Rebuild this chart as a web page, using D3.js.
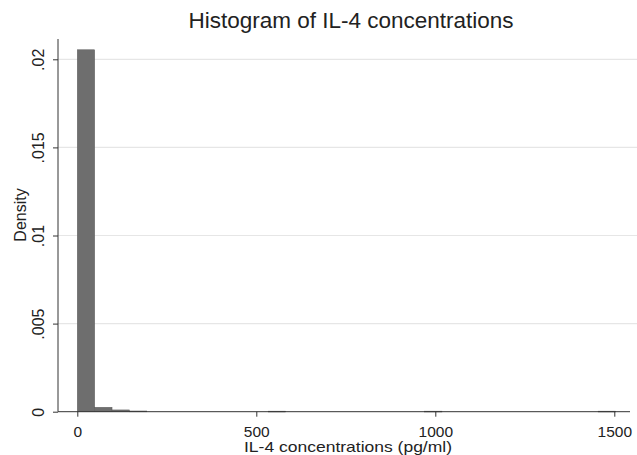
<!DOCTYPE html>
<html>
<head>
<meta charset="utf-8">
<script src="https://cdn.jsdelivr.net/npm/d3@7"></script>
<style>
  body { margin: 0; background: #fff; }
  text { font-family: "Liberation Sans", Arial, sans-serif; fill: #222; }
</style>
</head>
<body>
<svg id="chart" width="637" height="455"></svg>
<script>
// histogram bins (start of bin, density)
var binWidth = 48.5;
var binStarts = [0, 48.5, 97, 145.5, 533.5, 970, 1455];
var densities = [0.02054, 0.00025, 0.0001, 0.00004, 0.00003, 0.00003, 0.00003];
var xTicks = [0, 500, 1000, 1500];
var yTicks = [0, 0.005, 0.01, 0.015, 0.02];
var yTickLabels = ["0", ".005", ".01", ".015", ".02"];

var svg = d3.select("#chart");

var x = d3.scaleLinear().domain([0, 1500]).range([77.3, 614.3]);
var y = d3.scaleLinear().domain([0, 0.02]).range([411.7, 59.3]);

// plot edges ("top" is taken by window.top, so plotTop)
var plotLeft = 58, plotRight = 637, plotBottom = y(0), plotTop = 39;

// gridlines
svg.append("g").selectAll("line")
  .data(yTicks.slice(1))
  .enter().append("line")
  .attr("x1", plotLeft).attr("x2", plotRight)
  .attr("y1", d => y(d)).attr("y2", d => y(d))
  .style("stroke", "#e6e6e6").style("stroke-width", 1.2);

// bars
var bins = binStarts.map((s, i) => ({x0: s, x1: s + binWidth, d: densities[i]}));
svg.append("g").selectAll("rect")
  .data(bins)
  .enter().append("rect")
  .attr("x", d => x(d.x0))
  .attr("y", d => y(d.d))
  .attr("width", d => x(d.x1) - x(d.x0))
  .attr("height", d => Math.max(0.8, y(0) - y(d.d)))
  .style("fill", "#6e6e6e")
  .style("stroke", "#5a5a5a")
  .style("stroke-width", 0.5);

// y axis
var yAxis = d3.axisLeft(y).tickValues(yTicks)
  .tickFormat((d, i) => yTickLabels[i]).tickSize(5).tickSizeOuter(0);
var yg = svg.append("g").attr("transform", "translate(" + plotLeft + ",0)").call(yAxis);
yg.select(".domain").remove();
yg.append("line").attr("x1", 0).attr("x2", 0).attr("y1", plotTop).attr("y2", plotBottom)
  .style("stroke", "#333");
yg.selectAll(".tick line").style("stroke", "#333");
yg.selectAll(".tick text")
  .attr("transform", "rotate(-90)")
  .attr("x", 0).attr("y", -14)
  .attr("dy", 0)
  .style("text-anchor", "middle")
  .style("font-size", "16px")
  .style("font-family", "Liberation Sans, Arial, sans-serif")
  .style("fill", "#222");

// x axis
var xAxis = d3.axisBottom(x).tickValues(xTicks).tickFormat(d3.format("d"))
  .tickSize(5).tickSizeOuter(0);
var xg = svg.append("g").attr("transform", "translate(0," + plotBottom + ")").call(xAxis);
xg.select(".domain").remove();
xg.append("line").attr("x1", plotLeft).attr("x2", 630).attr("y1", 0).attr("y2", 0)
  .style("stroke", "#333");
xg.selectAll(".tick line").style("stroke", "#333");
xg.selectAll(".tick text")
  .attr("y", 25).attr("dy", 0)
  .style("font-size", "15.5px")
  .style("font-family", "Liberation Sans, Arial, sans-serif")
  .style("fill", "#222");

// labels
svg.append("text")
  .attr("x", 351).attr("y", 28)
  .style("text-anchor", "middle")
  .style("font-size", "22.5px")
  .text("Histogram of IL-4 concentrations");

svg.append("text")
  .attr("x", 348).attr("y", 452)
  .style("text-anchor", "middle")
  .style("font-size", "14.5px")
  .attr("textLength", 208)
  .attr("lengthAdjust", "spacingAndGlyphs")
  .text("IL-4 concentrations (pg/ml)");

svg.append("text")
  .attr("transform", "translate(26,215) rotate(-90)")
  .style("text-anchor", "middle")
  .style("font-size", "16px")
  .text("Density");
</script>
</body>
</html>
